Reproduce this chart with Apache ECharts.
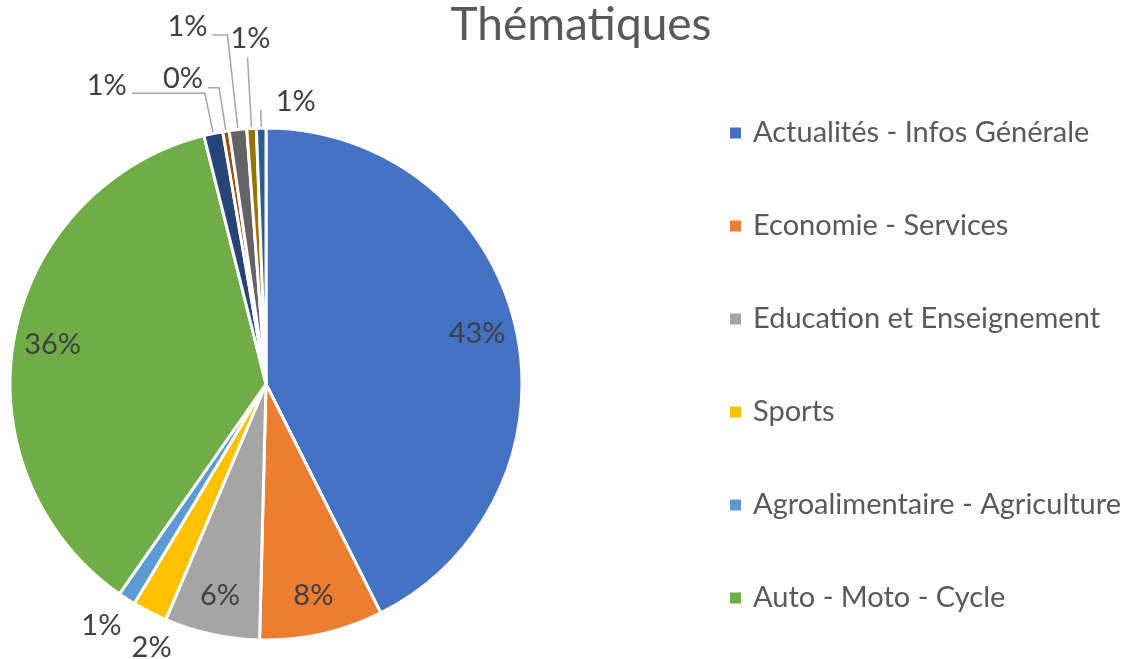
<!DOCTYPE html>
<html>
<head>
<meta charset="utf-8">
<script src="https://cdn.jsdelivr.net/npm/echarts@6/dist/echarts.min.js"></script>
<style>
  html, body { margin: 0; padding: 0; background: #fff; }
  #main { width: 1134px; height: 659px; }
</style>
</head>
<body>
<div id="main"></div>
<script>
// catégories (les 6 premières sont dans la légende)
var categories = [
  'Actualités - Infos Générale',
  'Economie - Services',
  'Education et Enseignement',
  'Sports',
  'Agroalimentaire - Agriculture',
  'Auto - Moto - Cycle',
  'Autre 1',
  'Autre 2',
  'Autre 3',
  'Autre 4',
  'Autre 5'
];
// parts en %
var shares = [42.6, 7.8, 6.0, 2.2, 1.1, 36.4, 1.2, 0.4, 1.1, 0.6, 0.6];
var colors = ['#4472C4', '#ED7D31', '#A5A5A5', '#FFC000', '#5B9BD5', '#70AD47',
  '#264478', '#9E480E', '#636363', '#997300', '#255E91'];
var legendCount = 6;
// étiquettes dans la part (les autres à l'extérieur)
var insideLabels = [true, true, true, false, false, true, false, false, false, false, false];
// traits de rappel des petites parts : radial, horizontal, écart au texte, décalage vertical
var lineLen = [0, 0, 0, 40, 32, 0, 41, 44, 95, 71, 18];
var lineLen2 = [0, 0, 0, 0, 0, 0, 73, 11, 15, 0, 0];
var textGap = [5, 5, 5, -40, -12, 5, 5, 5, 5, -23, -55];
var textLift = [0, 0, 0, 0, 0, 0, 8, 9, 8, 19, 8];
var noLine = [false, false, false, true, true, false, false, false, false, false, false];

var myChart = echarts.init(document.getElementById('main'));
var fmt = function (p) { return Math.round(p.value) + '%'; };

// série principale : parts + étiquettes extérieures
var mainData = categories.map(function (name, i) {
  return {
    name: name,
    value: shares[i],
    itemStyle: { color: colors[i] },
    label: {
      show: !insideLabels[i],
      distanceToLabelLine: textGap[i],
      offset: [0, -textLift[i]]
    },
    labelLine: {
      show: !insideLabels[i] && !noLine[i],
      length: lineLen[i],
      length2: lineLen2[i]
    }
  };
});
// anneau transparent pour placer les étiquettes intérieures vers 0.83 r
var ringData = categories.map(function (name, i) {
  return {
    name: name,
    value: shares[i],
    label: { show: insideLabels[i] }
  };
});

var option = {
  animation: false,
  title: {
    text: 'Thématiques',
    left: 576,
    top: -3,
    textAlign: 'center',
    textStyle: { fontFamily: 'Lato', fontSize: 46, fontWeight: 'normal', color: '#595959' }
  },
  legend: {
    orient: 'vertical',
    left: 723,
    top: 113,
    data: categories.slice(0, legendCount),
    icon: 'rect',
    itemWidth: 13,
    itemHeight: 13,
    itemGap: 63,
    textStyle: { fontFamily: 'Lato', fontSize: 29, color: '#595959', lineHeight: 30, padding: [0, 0, 0, 6] }
  },
  series: [
    {
      type: 'pie',
      center: [266, 384],
      radius: [0, 256],
      startAngle: 90,
      clockwise: true,
      avoidLabelOverlap: false,
      labelLayout: { hideOverlap: false },
      itemStyle: { borderColor: '#fff', borderWidth: 3 },
      label: {
        position: 'outside',
        formatter: fmt,
        fontFamily: 'Lato',
        fontSize: 29,
        color: '#404040',
        overflow: 'none'
      },
      labelLine: {
        lineStyle: { color: '#A6A6A6', width: 1.5 }
      },
      emphasis: { disabled: true },
      data: mainData
    },
    {
      type: 'pie',
      center: [266, 384],
      radius: [172, 256],
      startAngle: 90,
      clockwise: true,
      silent: true,
      itemStyle: { color: 'rgba(0,0,0,0)', borderWidth: 0 },
      label: {
        position: 'inside',
        formatter: fmt,
        fontFamily: 'Lato',
        fontSize: 29,
        color: '#404040'
      },
      labelLine: { show: false },
      emphasis: { disabled: true },
      data: ringData
    }
  ]
};
myChart.setOption(option);
</script>
</body>
</html>
